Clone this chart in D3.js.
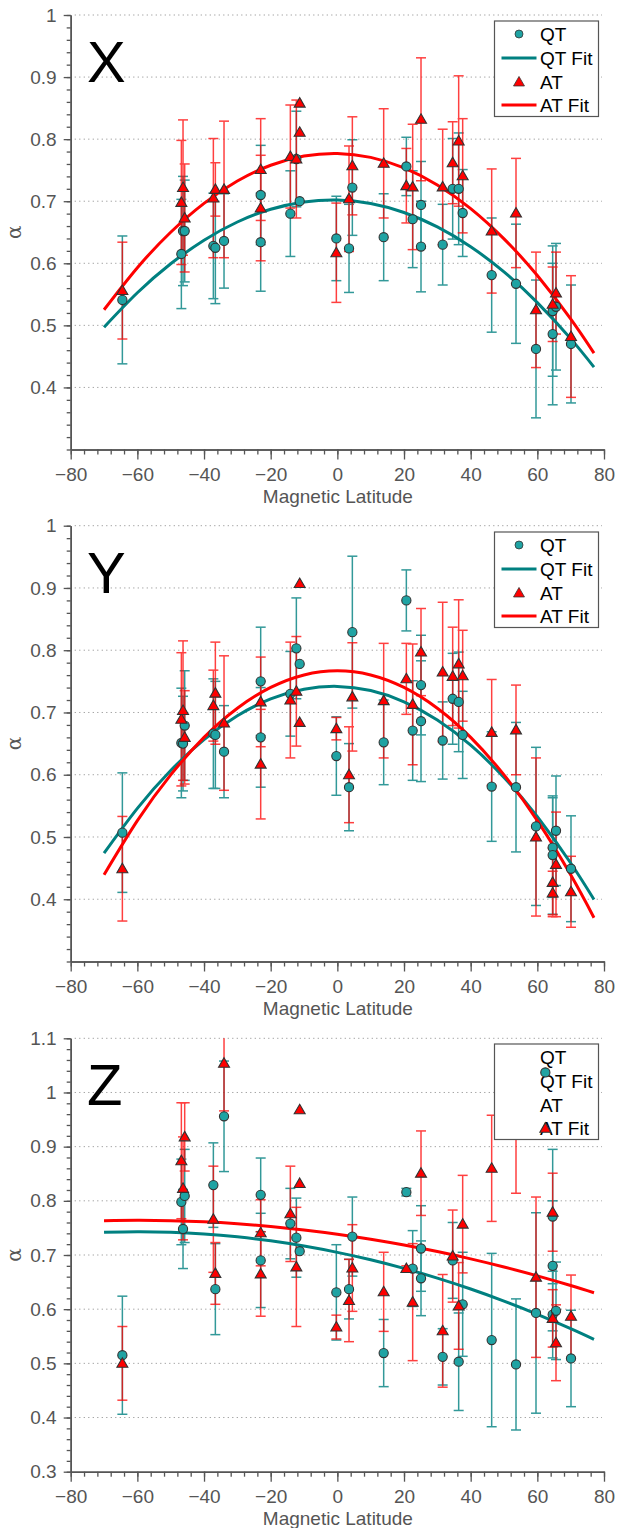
<!DOCTYPE html>
<html>
<head>
<meta charset="utf-8">
<script src="https://cdn.jsdelivr.net/npm/d3@7"></script>
<style>
  body { margin: 0; background: #fff; }
  svg { display: block; font-family: "Liberation Sans", Arial, sans-serif; }
</style>
</head>
<body>
<svg id="chart" width="617" height="1528"></svg>
<script>
// ---- data ----
var latTicks = [-80, -60, -40, -20, 0, 20, 40, 60, 80];
var alphaTicksXY = [0.4, 0.5, 0.6, 0.7, 0.8, 0.9, 1.0];
var alphaTicksZ = [0.3, 0.4, 0.5, 0.6, 0.7, 0.8, 0.9, 1.0, 1.1];
var legendLabels = ["QT", "QT Fit", "AT", "AT Fit"];

// fit curves sampled at these latitudes
var fitLat = [-70, -60, -50, -40, -30, -20, -10, 0, 10, 20, 30, 40, 50, 60, 70, 77];
var xQTFit = [0.497, 0.5525, 0.5992, 0.6372, 0.6665, 0.687, 0.6988, 0.702, 0.6962, 0.6818, 0.6586, 0.6267, 0.5861, 0.5367, 0.4786, 0.4327];
var xATFit = [0.5251, 0.5929, 0.65, 0.6965, 0.7325, 0.7579, 0.7727, 0.777, 0.7706, 0.7537, 0.7262, 0.6881, 0.6394, 0.5802, 0.5103, 0.4552];
var yQTFit = [0.474, 0.546, 0.6068, 0.6564, 0.6947, 0.7217, 0.7374, 0.7419, 0.7352, 0.7172, 0.6879, 0.6474, 0.5956, 0.5325, 0.4582, 0.3995];
var yATFit = [0.4392, 0.5262, 0.5997, 0.66, 0.7068, 0.7402, 0.7603, 0.767, 0.7603, 0.7402, 0.7068, 0.66, 0.5997, 0.5262, 0.4392, 0.3703];
var zQTFit = [0.742, 0.743, 0.742, 0.7388, 0.7335, 0.7261, 0.7165, 0.7049, 0.6912, 0.6753, 0.6573, 0.6372, 0.615, 0.5906, 0.5642, 0.5444];
var zATFit = [0.7633, 0.764, 0.7633, 0.7612, 0.7576, 0.7526, 0.7462, 0.7384, 0.7291, 0.7184, 0.7063, 0.6928, 0.6778, 0.6615, 0.6437, 0.6304];

// [magnetic latitude, alpha, error]
var xQT = [
  [-64.5, 0.541, 0.103], [-46.8, 0.615, 0.088], [-46.3, 0.652, 0.088], [-45.8, 0.652, 0.082],
  [-37.2, 0.628, 0.085], [-36.6, 0.625, 0.09], [-34.0, 0.636, 0.076], [-23.0, 0.710, 0.080],
  [-23.0, 0.634, 0.079], [-14.1, 0.680, 0.069], [-12.3, 0.768, 0.077], [-11.3, 0.700, 0],
  [-0.3, 0.640, 0.068], [3.5, 0.624, 0.071], [4.5, 0.722, 0.077], [13.9, 0.642, 0.070],
  [20.7, 0.756, 0.047], [22.6, 0.671, 0.078], [25.1, 0.694, 0.070], [25.1, 0.627, 0.073],
  [31.6, 0.630, 0.065], [34.6, 0.720, 0.081], [36.4, 0.720, 0.090], [37.6, 0.681, 0.070],
  [46.3, 0.581, 0.092], [53.6, 0.567, 0.096], [59.6, 0.462, 0.111], [64.6, 0.523, 0.105],
  [64.6, 0.486, 0.114], [65.6, 0.530, 0.102], [70.1, 0.470, 0.095]
];
var xAT = [
  [-64.5, 0.556, 0.078], [-46.8, 0.698, 0.100], [-46.3, 0.722, 0.109], [-45.8, 0.673, 0.087],
  [-37.2, 0.705, 0.096], [-36.6, 0.719, 0.043], [-34.0, 0.719, 0.110], [-23.0, 0.751, 0.082],
  [-23.0, 0.689, 0.085], [-14.1, 0.772, 0.083], [-12.3, 0.768, 0.095], [-11.3, 0.811, 0],
  [-11.3, 0.858, 0], [-0.3, 0.617, 0.080], [3.5, 0.704, 0.085], [4.5, 0.757, 0.079],
  [13.9, 0.761, 0.088], [20.7, 0.725, 0.060], [22.6, 0.723, 0.101], [25.1, 0.832, 0.099],
  [31.6, 0.723, 0.093], [34.6, 0.762, 0.066], [36.4, 0.797, 0.105], [37.6, 0.741, 0.092],
  [46.3, 0.652, 0.100], [53.6, 0.681, 0.088], [59.6, 0.525, 0.093], [64.6, 0.534, 0.060],
  [65.6, 0.552, 0.066], [70.1, 0.482, 0.098]
];
var yQT = [
  [-64.5, 0.507, 0.096], [-46.8, 0.651, 0.088], [-46.3, 0.650, 0.076], [-45.8, 0.679, 0.088],
  [-37.2, 0.666, 0.088], [-36.6, 0.664, 0.086], [-34.0, 0.637, 0.074], [-23.0, 0.750, 0.087],
  [-23.0, 0.660, 0.080], [-14.1, 0.730, 0.068], [-12.3, 0.803, 0.081], [-11.3, 0.778, 0],
  [-0.3, 0.630, 0.063], [3.5, 0.580, 0.070], [4.5, 0.829, 0.122], [13.9, 0.652, 0.068],
  [20.7, 0.880, 0.049], [22.6, 0.671, 0.080], [25.1, 0.744, 0.080], [25.1, 0.686, 0.097],
  [31.6, 0.655, 0.062], [34.6, 0.722, 0.073], [36.4, 0.717, 0.080], [37.6, 0.664, 0.070],
  [46.3, 0.581, 0.088], [53.6, 0.580, 0.104], [59.6, 0.517, 0.127], [64.6, 0.483, 0.080],
  [64.6, 0.471, 0.095], [65.6, 0.510, 0.088], [70.1, 0.449, 0.085]
];
var yAT = [
  [-64.5, 0.449, 0.084], [-46.8, 0.689, 0.107], [-46.3, 0.703, 0.112], [-45.8, 0.660, 0.075],
  [-37.2, 0.711, 0.057], [-36.6, 0.731, 0.082], [-34.0, 0.683, 0.108], [-23.0, 0.717, 0.072],
  [-23.0, 0.617, 0.088], [-14.1, 0.720, 0.093], [-12.3, 0.734, 0.088], [-11.3, 0.907, 0],
  [-11.3, 0.684, 0], [-0.3, 0.674, 0.018], [3.5, 0.600, 0.077], [4.5, 0.725, 0.087],
  [13.9, 0.719, 0.092], [20.7, 0.754, 0.057], [22.6, 0.713, 0.097], [25.1, 0.797, 0.070],
  [31.6, 0.765, 0.112], [34.6, 0.758, 0.079], [36.4, 0.778, 0.103], [37.6, 0.759, 0.073],
  [46.3, 0.668, 0.085], [53.6, 0.672, 0.072], [59.6, 0.500, 0.127], [64.6, 0.427, 0.055],
  [64.6, 0.410, 0.035], [65.6, 0.456, 0.084], [70.1, 0.412, 0.057]
];
var zQT = [
  [-64.5, 0.515, 0.109], [-46.8, 0.798, 0.079], [-46.3, 0.748, 0.073], [-45.8, 0.809, 0.086],
  [-37.2, 0.829, 0.078], [-36.6, 0.637, 0.084], [-34.0, 0.956, 0.102], [-23.0, 0.811, 0.068],
  [-23.0, 0.690, 0.087], [-14.1, 0.758, 0.065], [-12.3, 0.732, 0.073], [-11.3, 0.707, 0],
  [-0.3, 0.631, 0.088], [3.5, 0.637, 0.055], [4.5, 0.734, 0.073], [13.9, 0.519, 0.062],
  [20.7, 0.816, 0.007], [22.6, 0.675, 0.070], [25.1, 0.712, 0.079], [25.1, 0.657, 0.069],
  [31.6, 0.512, 0.052], [34.6, 0.690, 0.070], [36.4, 0.503, 0.090], [37.6, 0.609, 0.096],
  [46.3, 0.543, 0.160], [53.6, 0.498, 0.121], [59.6, 0.593, 0.185], [64.6, 0.771, 0.124],
  [64.6, 0.680, 0.120], [64.6, 0.590, 0.080], [65.6, 0.597, 0.090], [70.1, 0.509, 0.089]
];
var zAT = [
  [-64.5, 0.500, 0.068], [-46.8, 0.874, 0.107], [-46.3, 0.823, 0.095], [-45.8, 0.918, 0.063],
  [-37.2, 0.766, 0.098], [-36.6, 0.666, 0.057], [-34.0, 1.054, 0.088], [-23.0, 0.741, 0.061],
  [-23.0, 0.665, 0.078], [-14.1, 0.776, 0.088], [-12.3, 0.678, 0.110], [-11.3, 0.968, 0],
  [-11.3, 0.832, 0], [-0.3, 0.567, 0.022], [3.5, 0.616, 0.076], [4.5, 0.676, 0.080],
  [13.9, 0.632, 0.073], [20.7, 0.675, 0.005], [22.6, 0.613, 0.108], [25.1, 0.851, 0.078],
  [31.6, 0.560, 0.104], [34.6, 0.698, 0.085], [36.4, 0.606, 0.080], [37.6, 0.757, 0.090],
  [46.3, 0.860, 0.098], [53.6, 0.930, 0.116], [59.6, 0.659, 0.148], [64.6, 0.779, 0.072],
  [64.6, 0.583, 0.053], [65.6, 0.538, 0.070], [70.1, 0.587, 0.076]
];
// two Z points that sit on top of the legend box
var zQTOver = [[62.4, 1.037, 0]];
var zATOver = [[62.4, 0.934, 0]];

// ---- layout ----
var panels = [
  { name: "X", top: 15, bottom: 449.5, dom: [0.3, 1.0], ticks: alphaTicksXY,
    qt: xQT, at: xAT, qtFit: xQTFit, atFit: xATFit, legY: 21, symbols: true },
  { name: "Y", top: 525.7, bottom: 961.5, dom: [0.3, 1.0], ticks: alphaTicksXY,
    qt: yQT, at: yAT, qtFit: yQTFit, atFit: yATFit, legY: 532, symbols: true },
  { name: "Z", top: 1038.3, bottom: 1471.7, dom: [0.3, 1.1], ticks: alphaTicksZ,
    qt: zQT, at: zAT, qtFit: zQTFit, atFit: zATFit, legY: 1044, symbols: false,
    qtOver: zQTOver, atOver: zATOver }
];

var left = 70.7, right = 604;
var teal = "#008080", tealFill = "#1fa3a3", red = "#ff0000", edge = "#333";
var axisCol = "#555";

var svg = d3.select("#chart");
var x = d3.scaleLinear().domain([-80, 80]).range([left, right]);
var tri = d3.symbol().type(d3.symbolTriangle).size(52);

function errorBars(g, data, y, col, op) {
  var eb = g.append("g").attr("stroke", col).attr("stroke-width", 1.5).attr("opacity", op);
  data.filter(function (d) { return d[2] > 0; }).forEach(function (d) {
    var cx = x(d[0]);
    eb.append("line").attr("x1", cx).attr("x2", cx).attr("y1", y(d[1] - d[2])).attr("y2", y(d[1] + d[2]));
    [d[1] - d[2], d[1] + d[2]].forEach(function (v) {
      eb.append("line").attr("x1", cx - 5).attr("x2", cx + 5).attr("y1", y(v)).attr("y2", y(v));
    });
  });
}

function circles(g, data, y) {
  g.append("g").selectAll("circle").data(data).join("circle")
    .attr("cx", function (d) { return x(d[0]); })
    .attr("cy", function (d) { return y(d[1]); })
    .attr("r", 4.6)
    .attr("fill", tealFill).attr("stroke", edge).attr("stroke-width", 1.1);
}

function triangles(g, data, y) {
  g.append("g").selectAll("path").data(data).join("path")
    .attr("d", tri)
    .attr("transform", function (d) { return "translate(" + x(d[0]) + "," + (y(d[1]) + 0.8) + ")"; })
    .attr("fill", red).attr("stroke", edge).attr("stroke-width", 1.1);
}

panels.forEach(function (p, i) {
  var y = d3.scaleLinear().domain(p.dom).range([p.bottom, p.top]);
  var g = svg.append("g");

  svg.append("defs").append("clipPath").attr("id", "clip" + i)
    .append("rect").attr("x", left).attr("y", p.top).attr("width", right - left).attr("height", p.bottom - p.top);

  // dotted grid
  g.append("g").selectAll("line").data(p.ticks.filter(function (t) { return t > p.dom[0] + 1e-9; })).join("line")
    .attr("x1", left + 4).attr("x2", right - 2)
    .attr("y1", function (d) { return y(d); }).attr("y2", function (d) { return y(d); })
    .attr("stroke", "#9a9a9a").attr("stroke-width", 1).attr("stroke-dasharray", "1.2,3.3");

  // axes: minor ticks first, then major with labels
  var minorY = d3.range(Math.round(p.dom[0] * 50), Math.round(p.dom[1] * 50) + 1).map(function (k) { return k / 50; });
  var minorX = d3.range(-80, 81, 4);

  var ya = g.append("g").attr("transform", "translate(" + left + ",0)");
  ya.call(d3.axisLeft(y).tickValues(minorY).tickSize(4).tickFormat("").tickSizeOuter(0));
  ya.append("g").call(d3.axisLeft(y).tickValues(p.ticks).tickSize(7).tickPadding(7)
    .tickFormat(d3.format("~g")).tickSizeOuter(0));

  var xa = g.append("g").attr("transform", "translate(0," + p.bottom + ")");
  xa.call(d3.axisBottom(x).tickValues(minorX).tickSize(5).tickFormat("").tickSizeOuter(0));
  xa.append("g").call(d3.axisBottom(x).tickValues(latTicks).tickSize(10).tickPadding(8)
    .tickFormat(d3.format("d")).tickSizeOuter(0));

  g.selectAll(".domain").attr("stroke", axisCol).attr("stroke-width", 1.5);
  g.selectAll(".tick line").attr("stroke", axisCol).attr("stroke-width", 1.3);
  g.selectAll(".tick text").attr("fill", axisCol).attr("font-size", 19)
    .attr("font-family", "'Liberation Sans', Arial, sans-serif");

  // axis titles
  g.append("text").attr("x", (left + right) / 2 + 0.5).attr("y", p.bottom + 53)
    .attr("text-anchor", "middle").attr("font-size", 19).attr("fill", axisCol)
    .text("Magnetic Latitude");
  g.append("text")
    .attr("transform", "translate(21," + (p.top + p.bottom) / 2 + ") rotate(-90)")
    .attr("text-anchor", "middle").attr("font-size", 20).attr("fill", axisCol)
    .attr("font-family", "'DejaVu Serif', serif")
    .text("α");

  // panel letter
  g.append("text").attr("x", 87).attr("y", p.top + 67).attr("font-size", 58)
    .attr("fill", "#000").text(p.name);

  // data
  var plot = g.append("g").attr("clip-path", "url(#clip" + i + ")");
  errorBars(plot, p.qt, y, teal, 0.8);
  errorBars(plot, p.at, y, red, 0.75);

  var line = d3.line()
    .x(function (d, k) { return x(fitLat[k]); })
    .y(function (d) { return y(d); })
    .curve(d3.curveNatural);
  plot.append("path").attr("d", line(p.qtFit)).attr("fill", "none").attr("stroke", teal).attr("stroke-width", 3);
  plot.append("path").attr("d", line(p.atFit)).attr("fill", "none").attr("stroke", red).attr("stroke-width", 3);

  circles(plot, p.qt, y);
  triangles(plot, p.at, y);

  // legend
  var lx = 494.5, ly = p.legY;
  var lg = g.append("g");
  lg.append("rect").attr("x", lx).attr("y", ly).attr("width", 104).attr("height", 95.5)
    .attr("fill", "#fff").attr("stroke", "#555").attr("stroke-width", 1.2);
  var rowY = [13, 37, 61, 84];
  legendLabels.forEach(function (lab, k) {
    lg.append("text").attr("x", lx + 45.5).attr("y", ly + rowY[k]).attr("dy", "0.36em")
      .attr("font-size", 19).attr("fill", "#000").text(lab);
  });
  if (p.symbols) {
    lg.append("circle").attr("cx", lx + 24.5).attr("cy", ly + rowY[0]).attr("r", 4)
      .attr("fill", tealFill).attr("stroke", edge).attr("stroke-width", 0.8);
    lg.append("line").attr("x1", lx + 7).attr("x2", lx + 42).attr("y1", ly + rowY[1]).attr("y2", ly + rowY[1])
      .attr("stroke", teal).attr("stroke-width", 3);
    lg.append("path").attr("d", tri).attr("transform", "translate(" + (lx + 24.5) + "," + (ly + rowY[2] + 0.8) + ")")
      .attr("fill", red).attr("stroke", edge).attr("stroke-width", 0.8);
    lg.append("line").attr("x1", lx + 7).attr("x2", lx + 42).attr("y1", ly + rowY[3]).attr("y2", ly + rowY[3])
      .attr("stroke", red).attr("stroke-width", 3);
  }
  if (p.qtOver) circles(g, p.qtOver, y);
  if (p.atOver) triangles(g, p.atOver, y);
});
</script>
</body>
</html>
